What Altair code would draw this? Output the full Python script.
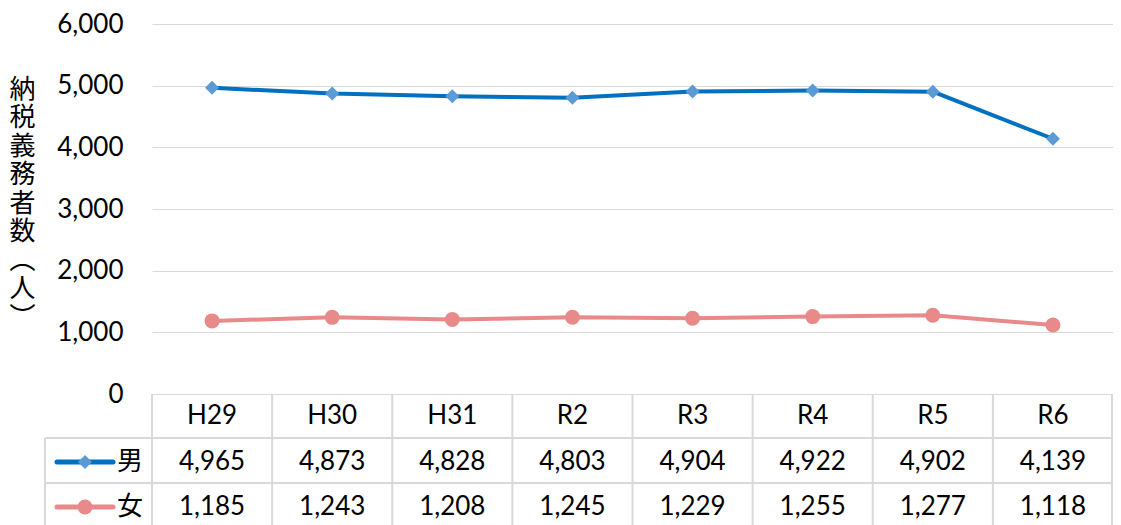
import altair as alt
import pandas as pd

categories = ["H29", "H30", "H31", "R2", "R3", "R4", "R5", "R6"]
male = [4965, 4873, 4828, 4803, 4904, 4922, 4902, 4139]
female = [1185, 1243, 1208, 1245, 1229, 1255, 1277, 1118]
series = ["男", "女"]
y_ticks = [0, 1000, 2000, 3000, 4000, 5000, 6000]
y_title = ["納", "税", "義", "務", "者", "数", "︵", "人", "︶"]

line_colors = ["#0070C0", "#E98A8A"]
marker_colors = ["#5B9BD5", "#E98A8A"]
shapes = ["diamond", "circle"]

W, H = 961, 370
FONT = "Lato, 'Noto Sans CJK JP', sans-serif"
CJK = "'Noto Sans CJK JP', sans-serif"
GRID = "#d9d9d9"

rows = []
for s, vals in zip(series, [male, female]):
    for c, v in zip(categories, vals):
        rows.append({"cat": c, "series": s, "value": v, "label": f"{v:,}"})
df = pd.DataFrame(rows)
cats_df = pd.DataFrame({"cat": categories})

xs = alt.Scale(domain=categories, paddingInner=0, paddingOuter=0)
ys = alt.Scale(domain=[0, 6000], nice=False)
col = alt.Scale(domain=series, range=line_colors)
fill = alt.Scale(domain=series, range=marker_colors)
shp = alt.Scale(domain=series, range=shapes)

base = alt.Chart(df)

lines = base.mark_line(strokeWidth=4, strokeCap="round", strokeJoin="round").encode(
    x=alt.X("cat:N", scale=xs, sort=categories,
            axis=alt.Axis(title=None, orient="bottom", ticks=False, tickSize=0, domain=False,
                          bandPosition=0.5, labelAlign="center",
                          labelAngle=0, labelFont=FONT, labelFontSize=26, labelColor="black",
                          labelPadding=21, labelBaseline="middle", grid=False)),
    y=alt.Y("value:Q", scale=ys,
            axis=alt.Axis(values=y_ticks, format=",.0f", ticks=False, domain=False,
                          labelFont=FONT, labelFontSize=26, labelColor="black", labelPadding=29,
                          gridColor=GRID, gridWidth=1,
                          title=y_title, titleAngle=0, titleFont=CJK, titleFontSize=26,
                          titleFontWeight="normal", titleColor="black", titleLineHeight=28.5,
                          titleAlign="center", titleBaseline="top", titleX=-130, titleY=52)),
    color=alt.Color("series:N", scale=col, legend=None),
    detail="series:N",
)

points = base.mark_point(filled=True, opacity=1, strokeWidth=0).encode(
    x=alt.X("cat:N", scale=xs, sort=categories),
    y=alt.Y("value:Q", scale=ys),
    fill=alt.Fill("series:N", scale=fill, legend=None),
    shape=alt.Shape("series:N", scale=shp, legend=None),
    size=alt.condition(alt.datum.series == "男", alt.value(196), alt.value(225)),
)

# table grid
vrules = alt.Chart(cats_df).mark_rule(color=GRID, strokeWidth=2).encode(
    x=alt.X("cat:N", scale=xs, sort=categories, bandPosition=0),
    y=alt.value(H), y2=alt.value(H + 140),
)
right_rule = alt.Chart(cats_df).mark_rule(color=GRID, strokeWidth=2).encode(
    x=alt.value(W - 1), y=alt.value(H), y2=alt.value(H + 140),
)
left_rule = alt.Chart(cats_df).mark_rule(color=GRID, strokeWidth=2).encode(
    x=alt.value(-107), y=alt.value(H + 44), y2=alt.value(H + 140),
)
hrules = []
for yy in [H + 44, H + 89]:
    hrules.append(alt.Chart(cats_df).mark_rule(color=GRID, strokeWidth=2).encode(
        x=alt.value(-107), x2=alt.value(W), y=alt.value(yy)))

row_y = {"男": H + 68, "女": H + 113}
table_layers = []
for i, s in enumerate(series):
    sub = df[df.series == s]
    ry = row_y[s]
    table_layers.append(alt.Chart(sub).mark_text(font=FONT, fontSize=26, color="black",
                                                 baseline="middle").encode(
        x=alt.X("cat:N", scale=xs, sort=categories, bandPosition=0.5),
        y=alt.value(ry), text="label:N"))
    key = pd.DataFrame({"series": [s]})
    table_layers.append(alt.Chart(key).mark_rule(strokeWidth=5, strokeCap="round").encode(
        x=alt.value(-95), x2=alt.value(-39), y=alt.value(ry),
        color=alt.Color("series:N", scale=col, legend=None)))
    table_layers.append(alt.Chart(key).mark_point(filled=True, opacity=1, strokeWidth=0,
                                                  shape=shapes[i],
                                                  size=196 if i == 0 else 225).encode(
        x=alt.value(-67), y=alt.value(ry),
        fill=alt.Fill("series:N", scale=fill, legend=None)))
    table_layers.append(alt.Chart(key).mark_text(font=CJK, fontSize=26, color="black",
                                                 baseline="middle").encode(
        x=alt.value(-22), y=alt.value(ry), text="series:N"))

chart = alt.layer(
    vrules, right_rule, left_rule, *hrules, lines, points, *table_layers
).properties(
    width=W, height=H,
    padding={"left": 144, "top": 16, "right": 0, "bottom": 131},
    autosize=alt.AutoSizeParams(type="none"),
).configure_view(stroke=None)

chart.save("out.html", embed_options={"renderer": "svg", "actions": False})
